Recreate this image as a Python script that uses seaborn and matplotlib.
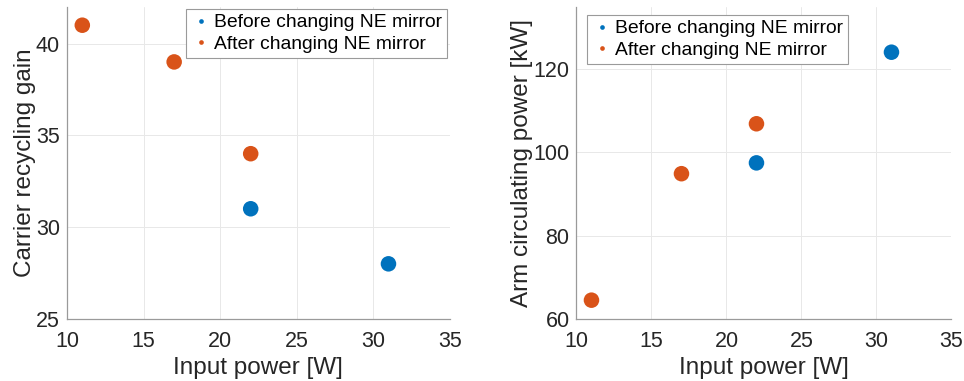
import matplotlib
matplotlib.use("Agg")
import matplotlib.pyplot as plt
import seaborn as sns
import pandas as pd

# data
power_before = [22, 31]
gain_before = [31.0, 28.0]
arm_before = [97.5, 124.1]

power_after = [11, 17, 22]
gain_after = [41.0, 39.0, 34.0]
arm_after = [64.5, 94.9, 106.9]

label_before = "Before changing NE mirror"
label_after = "After changing NE mirror"

df = pd.DataFrame({
    "power": power_before + power_after,
    "gain": gain_before + gain_after,
    "arm": arm_before + arm_after,
    "group": [label_before] * len(power_before) + [label_after] * len(power_after),
})

sns.set_theme(style="white")
plt.rcParams["font.family"] = ["Liberation Sans", "DejaVu Sans"]
txt = "#262626"
palette = {label_before: "#0072BD", label_after: "#D95319"}

fig = plt.figure(figsize=(9.64, 3.81), dpi=100)
ax1 = fig.add_axes([0.0695, 0.163, 0.397, 0.819])
ax2 = fig.add_axes([0.598, 0.163, 0.389, 0.819])

for ax, ycol, ylabel, ylim, yticks in [
    (ax1, "gain", "Carrier recycling gain", (25, 42), [25, 30, 35, 40]),
    (ax2, "arm", "Arm circulating power [kW]", (60, 135), [60, 80, 100, 120]),
]:
    sns.scatterplot(data=df, x="power", y=ycol, hue="group", palette=palette,
                    s=125, edgecolor="none", ax=ax, zorder=3)
    ax.set_xlim(10, 35)
    ax.set_ylim(*ylim)
    ax.set_xticks([10, 15, 20, 25, 30, 35])
    ax.set_yticks(yticks)
    ax.grid(True, color="#e8e8e8", linewidth=0.7)
    ax.set_axisbelow(True)
    for s in ["top", "right"]:
        ax.spines[s].set_visible(False)
    for s in ["left", "bottom"]:
        ax.spines[s].set_color("#9a9a9a")
        ax.spines[s].set_linewidth(0.9)
    ax.tick_params(axis="both", labelsize=15.5, colors=txt, direction="in",
                   length=3, color="#9a9a9a")
    ax.tick_params(axis="x", pad=9)
    ax.tick_params(axis="y", pad=5)
    ax.set_xlabel("Input power [W]", fontsize=17.5, color=txt, labelpad=3)
    ax.set_ylabel(ylabel, fontsize=17.5, color=txt, labelpad=0)

leg_kw = dict(fontsize=13.9, frameon=True, fancybox=False, edgecolor="#9a9a9a",
              markerscale=0.3, handletextpad=0.2, borderpad=0.25,
              labelspacing=0.2, handlelength=1.0, framealpha=1,
              borderaxespad=0)
h, l = ax1.get_legend_handles_labels()
lg1 = ax1.legend(h, l, loc="upper right", bbox_to_anchor=(0.993, 0.993), **leg_kw)
lg2 = ax2.legend(h, l, loc="upper left", bbox_to_anchor=(0.029, 0.974), **leg_kw)
for lg in (lg1, lg2):
    lg.get_frame().set_linewidth(0.8)
    for t in lg.get_texts():
        t.set_color("black")

fig.savefig("out.png", dpi=100)
